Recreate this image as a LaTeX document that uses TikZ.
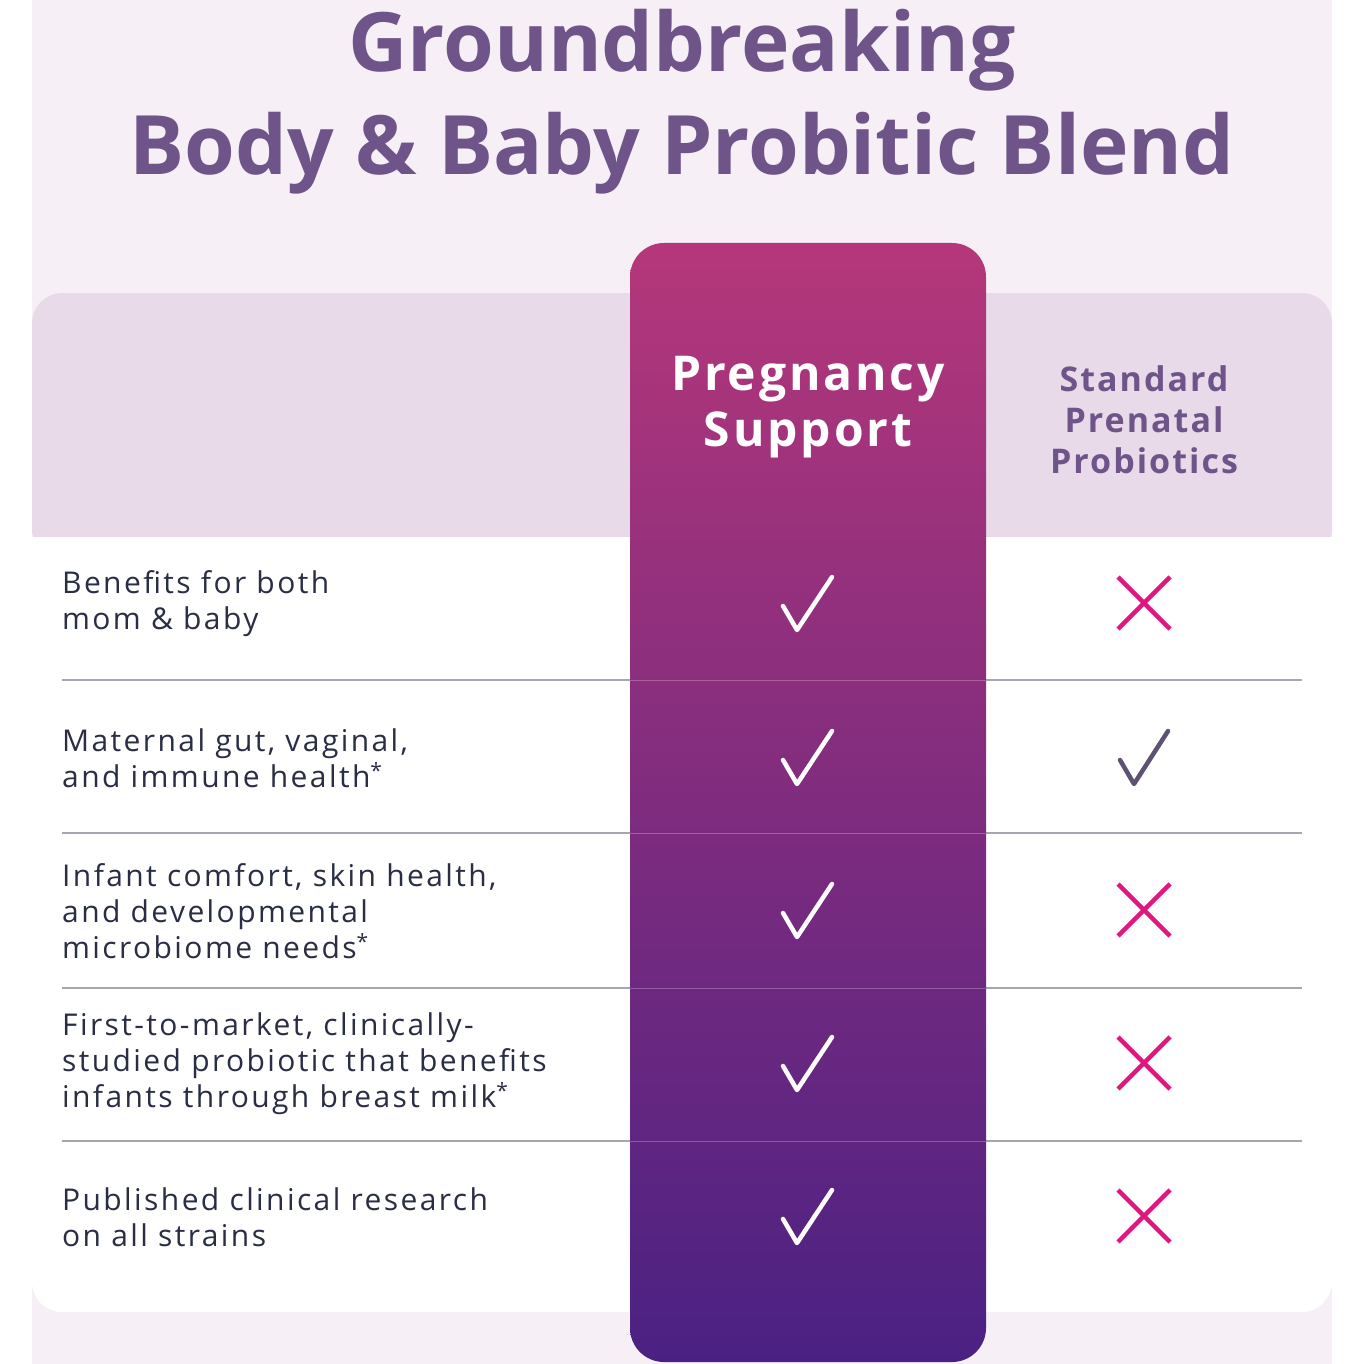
\documentclass[tikz,border=0pt]{standalone}
\usepackage{fontspec}
\setmainfont{Open Sans}
\newfontfamily\titlefont{Open Sans}
\definecolor{bgp}{HTML}{F6F0F6}
\definecolor{hdr}{HTML}{E8DAE8}
\definecolor{ttl}{HTML}{6E5489}
\definecolor{txt}{HTML}{2A2E45}
\definecolor{pinkx}{HTML}{E0177F}
\definecolor{grayck}{HTML}{5E5272}
\definecolor{sep}{HTML}{A8A4B0}
\definecolor{gtop}{HTML}{B5377A}
\definecolor{gbot}{HTML}{4A2183}
\begin{document}
\begin{tikzpicture}[x=1pt,y=-1pt,
  rowtxt/.style={anchor=west,align=left,text=txt,font=\fontsize{30}{36}\selectfont\addfontfeature{LetterSpace=8},inner sep=0pt},
  ck/.style={line width=4.5pt,line cap=round,line join=round},
  sepline/.style={draw=sep,line width=1.2pt}]
\useasboundingbox (0,0) rectangle (1364,1364);
\fill[white] (0,0) rectangle (1364,1364);
\fill[bgp] (32,0) rectangle (1332,1364);
% card
\fill[white,rounded corners=30pt] (32,293) rectangle (1332,1312);
\fill[hdr,rounded corners=30pt] (32,293) rectangle (1332,560);
\fill[white] (32,537) rectangle (1332,580);
% title
\node[text=ttl,font=\fontsize{82}{100}\selectfont\bfseries,anchor=base] (t1) at (682,72) {Groundbreaking};
\node[text=ttl,font=\fontsize{82}{100}\selectfont\bfseries,anchor=base] (t2) at (682,175) {Body \& Baby Probitic Blend};
% separators
\foreach \y in {680,833,988,1141} \draw[sepline] (62,\y) -- (1302,\y);
% column
\shade[top color=gtop,bottom color=gbot,rounded corners=34pt] (630,243) rectangle (986,1362);
\foreach \y in {680,833,988,1141} \draw[white,opacity=0.25,line width=1pt] (630,\y) -- (986,\y);
% headers
\node[text=white,align=center,font=\fontsize{48}{56}\selectfont\bfseries\addfontfeature{LetterSpace=6}] (h1) at (808,407) {Pregnancy\\Support};
\node[text=ttl,align=center,font=\fontsize{34}{41}\selectfont\bfseries\addfontfeature{LetterSpace=6}] (h2) at (1144,420) {Standard\\Prenatal\\Probiotics};
% rows
\node[rowtxt] (r1) at (62,604) {Benefits for both\\mom \& baby};
\node[rowtxt] (r2) at (62,758) {Maternal gut, vaginal,\\and immune health\textsuperscript{*}};
\node[rowtxt] (r3) at (62,911) {Infant comfort, skin health,\\and developmental\\microbiome needs\textsuperscript{*}};
\node[rowtxt] (r4) at (62,1064) {First-to-market, clinically-\\studied probiotic that benefits\\infants through breast milk\textsuperscript{*}};
\node[rowtxt] (r5) at (62,1217) {Published clinical research\\on all strains};
% checks
\foreach \y in {603,757,910,1063,1216}
  \draw[ck,white] (783,\y+3) -- (797,\y+27) -- (832,\y-26);
\draw[ck,grayck] (1120,760) -- (1134,784) -- (1168,731);
% crosses
\foreach \y in {603,910,1063,1216}{
  \draw[ck,pinkx,line cap=butt] (1118,\y-26) -- (1170,\y+26);
  \draw[ck,pinkx,line cap=butt] (1170,\y-26) -- (1118,\y+26);}
\end{tikzpicture}
\end{document}
